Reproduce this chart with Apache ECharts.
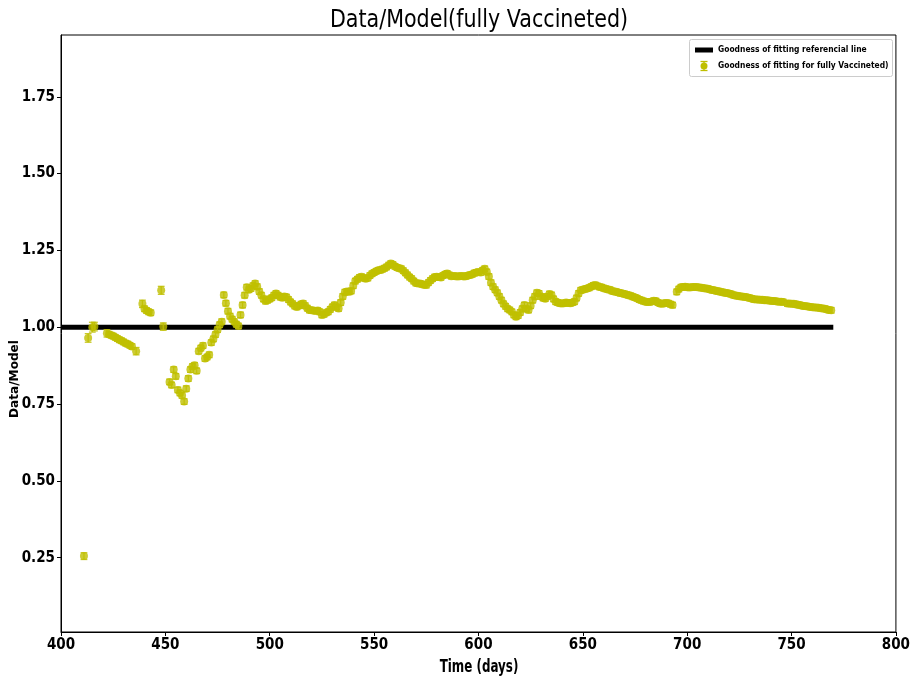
<!DOCTYPE html>
<html><head><meta charset="utf-8">
<script src="https://cdn.jsdelivr.net/npm/echarts@6/dist/echarts.min.js"></script>
<style>html,body{margin:0;padding:0;background:#fff}#c{width:913px;height:681px}</style>
</head><body><div id="c"></div>
<script>
// ---- data ----
const days = [
411,413,415,416,422,423,424,425,426,427,428,429,430,431,432,433,434,436,439,440,441,442,443,448,449,
452,453,454,455,456,457,458,459,460,461,
462,463,464,465,466,467,468,469,470,471,
472,473,474,475,476,477,478,479,480,481,
482,483,484,485,486,487,488,489,490,491,
492,493,494,495,496,497,498,499,500,501,
502,503,504,505,506,507,508,509,510,511,
512,513,514,515,516,517,518,519,520,521,
522,523,524,525,526,527,528,529,530,531,
532,533,534,535,536,537,538,539,540,541,
542,543,544,545,546,547,548,549,550,551,
552,553,554,555,556,557,558,559,560,561,
562,563,564,565,566,567,568,569,570,571,
572,573,574,575,576,577,578,579,580,581,
582,583,584,585,586,587,588,589,590,591,
592,593,594,595,596,597,598,599,600,601,
602,603,604,605,606,607,608,609,610,611,
612,613,614,615,616,617,618,619,620,621,
622,623,624,625,626,627,628,629,630,631,
632,633,634,635,636,637,638,639,640,641,
642,643,644,645,646,647,648,649,650,651,
652,653,654,655,656,657,658,659,660,661,
662,663,664,665,666,667,668,669,670,671,
672,673,674,675,676,677,678,679,680,681,
682,683,684,685,686,687,688,689,690,691,
692,693,
695,696,697,698,699,700,701,702,703,704,
705,706,707,708,709,710,711,712,713,714,
715,716,717,718,719,720,721,722,723,724,
725,726,727,728,729,730,731,732,733,734,
735,736,737,738,739,740,741,742,743,744,
745,746,
748,749,750,751,752,753,754,755,756,757,
758,759,760,761,762,763,764,765,766,767,
768,769
];
const ratio = [
0.255,0.965,1.000,1.002,0.980,0.977,0.974,0.971,0.967,0.963,0.959,0.956,0.952,0.948,0.945,0.941,0.937,0.922,1.076,1.060,1.054,1.050,1.047,1.120,1.002,
0.822,0.812,0.862,0.840,0.796,0.786,0.778,0.758,0.800,0.833,
0.862,0.872,0.876,0.858,0.922,0.932,0.940,0.898,0.903,0.910,
0.950,0.962,0.976,0.992,1.008,1.018,1.105,1.078,1.052,1.036,
1.026,1.018,1.010,1.004,1.040,1.072,1.104,1.130,1.122,1.126,
1.135,1.142,1.132,1.116,1.104,1.092,1.085,1.088,1.092,1.096,
1.104,1.110,1.104,1.098,1.096,1.100,1.098,1.090,1.082,1.076,
1.069,1.066,1.070,1.075,1.077,1.070,1.062,1.056,1.055,1.054,
1.053,1.054,1.050,1.040,1.042,1.047,1.050,1.058,1.066,1.072,
1.066,1.061,1.080,1.100,1.114,1.116,1.115,1.118,1.135,1.150,
1.156,1.162,1.164,1.160,1.158,1.160,1.168,1.174,1.178,1.182,
1.185,1.186,1.189,1.192,1.196,1.202,1.207,1.204,1.198,1.194,
1.192,1.190,1.184,1.177,1.170,1.163,1.158,1.150,1.144,1.142,
1.142,1.140,1.138,1.137,1.145,1.152,1.158,1.163,1.164,1.163,
1.162,1.168,1.172,1.175,1.170,1.166,1.167,1.166,1.165,1.166,
1.167,1.165,1.166,1.168,1.170,1.172,1.176,1.178,1.180,1.178,
1.185,1.190,1.180,1.165,1.145,1.132,1.122,1.112,1.100,1.088,
1.076,1.068,1.060,1.056,1.050,1.040,1.034,1.038,1.048,1.060,
1.072,1.060,1.056,1.070,1.088,1.100,1.112,1.110,1.100,1.095,
1.093,1.100,1.108,1.105,1.092,1.083,1.080,1.078,1.077,1.078,
1.080,1.079,1.078,1.080,1.083,1.095,1.110,1.120,1.122,1.124,
1.126,1.128,1.132,1.136,1.137,1.134,1.131,1.130,1.127,1.125,
1.123,1.122,1.118,1.116,1.115,1.113,1.111,1.110,1.108,1.106,
1.104,1.102,1.099,1.097,1.094,1.090,1.088,1.085,1.083,1.082,
1.082,1.084,1.086,1.085,1.080,1.077,1.076,1.078,1.079,1.078,
1.075,1.072,
1.115,1.124,1.130,1.131,1.132,1.130,1.129,1.130,1.131,1.131,
1.130,1.129,1.128,1.127,1.126,1.125,1.123,1.121,1.120,1.118,
1.117,1.115,1.114,1.112,1.111,1.110,1.108,1.105,1.103,1.102,
1.101,1.100,1.099,1.098,1.097,1.095,1.093,1.091,1.090,1.090,
1.089,1.089,1.088,1.088,1.087,1.086,1.085,1.085,1.084,1.083,
1.083,1.082,
1.077,1.077,1.076,1.076,1.075,1.073,1.072,1.070,1.069,1.068,
1.067,1.066,1.065,1.064,1.064,1.063,1.062,1.061,1.060,1.058,
1.056,1.055
];
// error bar half-heights that are visibly larger; others use the default
const errLarge = [[411,0.011],[413,0.014],[415,0.016],[416,0.014],[422,0.012],[436,0.012],[439,0.012],[448,0.013],[449,0.012]];
const errDefault = 0.009;
const refLineX = [400, 770];
const refLineY = 1.0;
const yTicks = [0.25, 0.50, 0.75, 1.00, 1.25, 1.50, 1.75];
const xTicks = [400, 450, 500, 550, 600, 650, 700, 750, 800];
const titleText = 'Data/Model(fully Vaccineted)';
const xName = 'Time (days)';
const yName = 'Data/Model';
const legendNames = ['Goodness of fitting referencial line', 'Goodness of fitting for fully Vaccineted)'];

// ---- build ----
const YEL = '#bfbf00';
const errOf = d => { const f = errLarge.find(e => e[0] === d); return f ? f[1] : errDefault; };
const pts = days.map((d, i) => [d, ratio[i], errOf(d)]);
const refData = refLineX.map(x => [x, refLineY]);
const TICKFONT = "'DejaVu Sans Condensed','Liberation Sans',sans-serif";

function renderErr(params, api) {
  const x = api.value(0), y = api.value(1), e = api.value(2);
  const t = api.coord([x, y + e]), b = api.coord([x, y - e]);
  const hw = 3.4;
  const st = { stroke: YEL, lineWidth: 1.3, opacity: 0.85 };
  return { type: 'group', children: [
    { type: 'line', shape: { x1: t[0], y1: t[1], x2: b[0], y2: b[1] }, style: st },
    { type: 'line', shape: { x1: t[0] - hw, y1: t[1], x2: t[0] + hw, y2: t[1] }, style: st },
    { type: 'line', shape: { x1: b[0] - hw, y1: b[1], x2: b[0] + hw, y2: b[1] }, style: st }
  ]};
}

const chart = echarts.init(document.getElementById('c'), null, { renderer: 'canvas' });
const labelStyle = { color: '#000', fontWeight: 'bold', fontSize: 15, fontFamily: TICKFONT };
chart.setOption({
  animation: false,
  backgroundColor: '#fff',
  grid: { left: 61, right: 16, top: 35, bottom: 49, show: true, borderColor: '#000', borderWidth: 1, backgroundColor: 'transparent' },
  xAxis: {
    type: 'value', min: xTicks[0], max: xTicks[xTicks.length - 1], interval: 50,
    axisLine: { onZero: false, lineStyle: { color: '#000', width: 1 } },
    axisTick: { length: 4, lineStyle: { color: '#000' } },
    splitLine: { show: false },
    axisLabel: Object.assign({ margin: 6 }, labelStyle)
  },
  yAxis: {
    type: 'value', min: 0.008, max: 1.951,
    axisLine: { show: true, onZero: false, lineStyle: { color: '#000', width: 1 } },
    axisTick: { show: true, length: 4, customValues: yTicks, lineStyle: { color: '#000' } },
    splitLine: { show: false },
    axisLabel: Object.assign({ margin: 6, customValues: yTicks, formatter: v => v.toFixed(2) }, labelStyle)
  },
  series: [
    { type: 'line', name: legendNames[0], data: refData, symbol: 'none', silent: true, z: 1,
      lineStyle: { color: '#000', width: 5, cap: 'butt' } },
    { type: 'custom', name: legendNames[1] + ' err', data: pts, renderItem: renderErr, z: 2, silent: true,
      encode: { x: 0, y: 1 } },
    { type: 'scatter', name: legendNames[1], data: pts.map(p => [p[0], p[1]]), symbol: 'circle', symbolSize: 8,
      itemStyle: { color: YEL }, z: 3, silent: true }
  ],
  graphic: [
    { type: 'text', x: 479, y: 21, scaleX: 0.86, style: { text: titleText, fill: '#000', font: "24px 'DejaVu Sans',sans-serif", textAlign: 'center', textVerticalAlign: 'middle' } },
    { type: 'text', x: 479, y: 668, scaleX: 0.7, style: { text: xName, fill: '#000', font: "bold 17px 'DejaVu Sans',sans-serif", textAlign: 'center', textVerticalAlign: 'middle' } },
    { type: 'text', x: 15, y: 379, rotation: Math.PI / 2, scaleX: 0.93, style: { text: yName, fill: '#000', font: "bold 13px 'DejaVu Sans',sans-serif", textAlign: 'center', textVerticalAlign: 'middle' } },
    { type: 'rect', shape: { x: 689.5, y: 39.5, width: 203, height: 37, r: 2 }, style: { fill: '#fff', stroke: '#ccc', lineWidth: 1 }, z: 100 },
    { type: 'line', shape: { x1: 695, y1: 50, x2: 713, y2: 50 }, style: { stroke: '#000', lineWidth: 5 }, z: 101 },
    { type: 'text', x: 718, y: 50, scaleX: 0.84, style: { text: legendNames[0], fill: '#000', font: "bold 9px 'DejaVu Sans',sans-serif", textVerticalAlign: 'middle' }, z: 101 },
    { type: 'line', shape: { x1: 704, y1: 61.5, x2: 704, y2: 70.5 }, style: { stroke: YEL, lineWidth: 1.3 }, z: 101 },
    { type: 'line', shape: { x1: 700.5, y1: 61.5, x2: 707.5, y2: 61.5 }, style: { stroke: YEL, lineWidth: 1.3 }, z: 101 },
    { type: 'line', shape: { x1: 700.5, y1: 70.5, x2: 707.5, y2: 70.5 }, style: { stroke: YEL, lineWidth: 1.3 }, z: 101 },
    { type: 'circle', shape: { cx: 704, cy: 66, r: 3.5 }, style: { fill: YEL }, z: 102 },
    { type: 'text', x: 718, y: 66, scaleX: 0.84, style: { text: legendNames[1], fill: '#000', font: "bold 9px 'DejaVu Sans',sans-serif", textVerticalAlign: 'middle' }, z: 101 }
  ]
});
</script>
</body></html>
